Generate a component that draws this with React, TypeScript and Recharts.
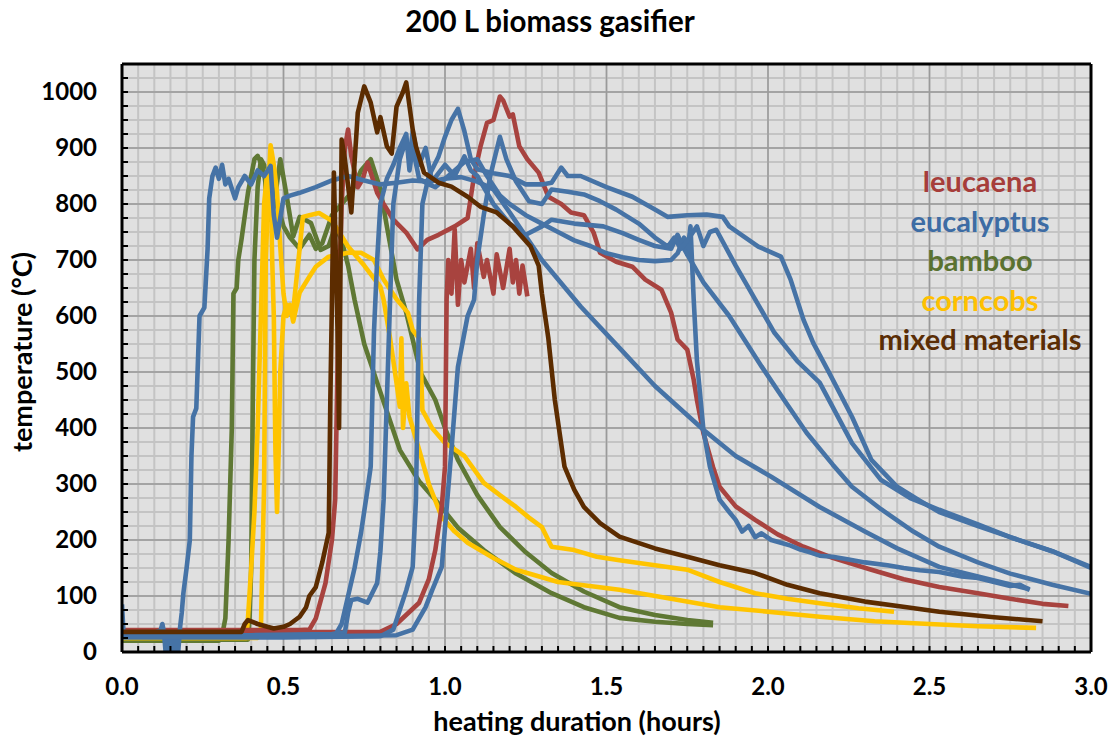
import { LineChart, Line, XAxis, YAxis, CartesianGrid, ReferenceLine } from 'recharts'

type Pt = [number, number]

// hours, °C
const leucaena1: Pt[] = [
  [0, 39], [0.3, 39], [0.55, 39], [0.58, 40], [0.6, 60], [0.63, 123], [0.65, 200], [0.66, 272], [0.67, 600],
  [0.68, 800], [0.69, 900], [0.7, 933], [0.71, 885], [0.73, 830], [0.745, 844], [0.76, 874], [0.79, 820],
  [0.81, 800], [0.84, 772], [0.88, 749], [0.915, 719], [0.945, 736], [0.98, 745], [1.03, 760], [1.07, 775],
  [1.09, 850], [1.11, 903], [1.13, 945], [1.15, 950], [1.17, 992], [1.18, 985], [1.2, 956], [1.21, 960],
  [1.23, 903], [1.255, 880], [1.29, 856], [1.32, 813], [1.36, 800], [1.39, 785], [1.43, 780], [1.46, 749],
  [1.48, 713], [1.53, 697], [1.58, 688], [1.62, 665], [1.67, 647], [1.7, 606], [1.72, 558], [1.75, 540],
  [1.77, 486], [1.78, 450], [1.8, 391], [1.83, 330], [1.85, 295], [1.9, 260], [1.96, 236], [2.03, 210],
  [2.11, 188], [2.2, 168], [2.32, 147], [2.42, 130], [2.53, 116], [2.65, 105], [2.75, 95], [2.85, 86], [2.93, 82],
]
const leucaena2: Pt[] = [
  [0, 35], [0.4, 35], [0.8, 36], [0.85, 50], [0.92, 88], [0.95, 130], [0.97, 182], [0.99, 260], [1.0, 331],
  [1.005, 629], [1.01, 700], [1.02, 640], [1.03, 755], [1.04, 620], [1.05, 700], [1.06, 660], [1.08, 720],
  [1.09, 650], [1.1, 730], [1.12, 670], [1.13, 700], [1.15, 640], [1.16, 710], [1.18, 650], [1.2, 720],
  [1.21, 660], [1.22, 700], [1.23, 640], [1.24, 690], [1.255, 635],
]

const eucalyptus1: Pt[] = [
  [0, 85], [0.005, 30], [0.05, 30], [0.1, 33], [0.12, 40], [0.125, 50], [0.13, 35], [0.135, 0], [0.14, 30],
  [0.143, 0], [0.147, 28], [0.15, 0], [0.155, 30], [0.158, 0], [0.162, 28], [0.166, 0], [0.17, 30], [0.174, 0],
  [0.178, 30], [0.18, 45], [0.185, 70], [0.19, 105], [0.2, 150], [0.21, 200], [0.215, 350], [0.22, 420],
  [0.23, 435], [0.24, 600], [0.255, 615], [0.265, 720], [0.27, 810], [0.28, 850], [0.29, 865], [0.3, 845],
  [0.31, 870], [0.32, 835], [0.33, 845], [0.35, 810], [0.36, 830], [0.38, 850], [0.4, 835], [0.42, 860],
  [0.44, 850], [0.46, 868], [0.47, 780], [0.48, 740], [0.5, 810], [0.52, 815], [0.55, 820], [0.6, 830],
  [0.65, 842], [0.7, 850], [0.75, 842], [0.8, 835], [0.85, 838], [0.9, 842], [0.95, 840], [1.0, 845],
  [1.05, 848], [1.1, 840], [1.15, 826], [1.2, 785], [1.3, 700], [1.42, 617], [1.54, 543], [1.65, 475],
  [1.8, 397], [1.9, 350], [2.01, 313], [2.16, 259], [2.3, 215], [2.4, 185], [2.53, 152], [2.65, 135], [2.81, 112],
]
const eucalyptus2: Pt[] = [
  [0, 28], [0.3, 28], [0.6, 28], [0.66, 30], [0.68, 50], [0.7, 100], [0.72, 150], [0.74, 213], [0.76, 290],
  [0.77, 331], [0.78, 570], [0.79, 700], [0.8, 800], [0.82, 845], [0.84, 870], [0.86, 900], [0.88, 925],
  [0.89, 860], [0.9, 900], [0.92, 845], [0.95, 835], [0.97, 830], [1.0, 845], [1.03, 860], [1.06, 875],
  [1.1, 880], [1.13, 850], [1.17, 815], [1.2, 800], [1.25, 780], [1.3, 765], [1.35, 750], [1.4, 735],
  [1.45, 725], [1.5, 712], [1.55, 705], [1.6, 700], [1.65, 698], [1.7, 700], [1.72, 712], [1.74, 740],
  [1.75, 710], [1.76, 760], [1.77, 629], [1.78, 520], [1.8, 397], [1.82, 331], [1.85, 272], [1.88, 250],
  [1.9, 236], [1.92, 215], [1.94, 225], [1.96, 205], [1.98, 212], [2.01, 200], [2.04, 195], [2.07, 190],
  [2.1, 183], [2.13, 178], [2.16, 172], [2.2, 170], [2.25, 165], [2.3, 160], [2.37, 155], [2.42, 150],
  [2.47, 146], [2.53, 143], [2.6, 135], [2.65, 132], [2.7, 125], [2.75, 118], [2.78, 120], [2.81, 111],
]
const eucalyptus3: Pt[] = [
  [0, 30], [0.4, 30], [0.65, 32], [0.69, 35], [0.7, 70], [0.71, 93], [0.73, 95], [0.76, 88], [0.79, 123],
  [0.8, 180], [0.81, 272], [0.82, 450], [0.83, 629], [0.84, 800], [0.86, 880], [0.88, 915], [0.89, 880],
  [0.9, 930], [0.92, 870], [0.94, 900], [0.96, 840], [0.98, 855], [1.0, 870], [1.03, 850], [1.06, 885],
  [1.08, 860], [1.1, 850], [1.15, 800], [1.2, 765], [1.25, 745], [1.3, 760], [1.33, 772], [1.4, 765],
  [1.49, 760], [1.55, 748], [1.6, 736], [1.65, 725], [1.7, 720], [1.72, 745], [1.74, 720], [1.76, 700],
  [1.8, 660], [1.88, 600], [1.93, 555], [1.98, 510], [2.05, 450], [2.12, 391], [2.2, 335], [2.26, 295],
  [2.35, 255], [2.45, 215], [2.53, 188], [2.65, 160], [2.75, 140], [2.88, 120], [3.0, 104],
]
const eucalyptus4: Pt[] = [
  [0, 26], [0.5, 26], [0.8, 28], [0.84, 40], [0.86, 75], [0.88, 110], [0.9, 152], [0.91, 272], [0.92, 629],
  [0.93, 800], [0.95, 850], [0.98, 885], [1.0, 920], [1.02, 950], [1.04, 970], [1.06, 930], [1.08, 880],
  [1.1, 862], [1.15, 855], [1.2, 850], [1.25, 835], [1.3, 835], [1.33, 838], [1.36, 865], [1.38, 850],
  [1.42, 850], [1.5, 830], [1.58, 813], [1.65, 790], [1.69, 777], [1.75, 780], [1.81, 781], [1.86, 777],
  [1.88, 760], [1.97, 724], [2.04, 706], [2.07, 665], [2.11, 593], [2.14, 552], [2.19, 498], [2.26, 420],
  [2.32, 343], [2.4, 295], [2.47, 270], [2.53, 250], [2.65, 225], [2.75, 205], [2.88, 180], [3.0, 152],
]
const eucalyptus5: Pt[] = [
  [0, 28], [0.6, 28], [0.85, 30], [0.9, 40], [0.94, 80], [0.96, 110], [0.99, 152], [1.02, 361], [1.04, 509],
  [1.07, 600], [1.09, 629], [1.1, 700], [1.12, 780], [1.14, 850], [1.17, 920], [1.19, 880], [1.22, 840],
  [1.26, 805], [1.3, 800], [1.33, 826], [1.38, 822], [1.43, 817], [1.48, 805], [1.53, 790], [1.6, 765],
  [1.65, 740], [1.69, 724], [1.71, 740], [1.73, 720], [1.75, 735], [1.78, 760], [1.8, 725], [1.82, 750],
  [1.84, 754], [1.9, 690], [1.97, 620], [2.02, 570], [2.09, 520], [2.16, 481], [2.26, 373], [2.35, 307],
  [2.44, 275], [2.53, 254], [2.65, 228], [2.75, 205], [2.88, 180], [3.0, 150],
]

const bamboo1: Pt[] = [
  [0, 20], [0.2, 20], [0.3, 20], [0.31, 30], [0.32, 60], [0.33, 200], [0.34, 400], [0.345, 640], [0.355, 650],
  [0.36, 700], [0.37, 737], [0.39, 820], [0.41, 880], [0.42, 886], [0.44, 861], [0.455, 772], [0.47, 795],
  [0.49, 880], [0.51, 814], [0.53, 742], [0.55, 777], [0.585, 766], [0.615, 718], [0.64, 725], [0.66, 760],
  [0.68, 735], [0.7, 690], [0.72, 629], [0.75, 550], [0.79, 481], [0.86, 361], [0.92, 305], [0.97, 272],
  [1.04, 222], [1.12, 182], [1.22, 140], [1.33, 105], [1.43, 80], [1.54, 61], [1.65, 54], [1.75, 50], [1.83, 48],
]
const bamboo2: Pt[] = [
  [0, 22], [0.3, 22], [0.39, 22], [0.395, 60], [0.4, 150], [0.405, 450], [0.41, 700], [0.42, 830], [0.43, 880],
  [0.44, 870], [0.45, 790], [0.46, 835], [0.48, 800], [0.5, 760], [0.52, 740], [0.55, 720], [0.58, 745],
  [0.6, 720], [0.62, 730], [0.65, 780], [0.68, 800], [0.71, 820], [0.74, 860], [0.77, 880], [0.8, 826],
  [0.82, 760], [0.85, 665], [0.88, 606], [0.925, 498], [0.97, 450], [1.0, 400], [1.04, 343], [1.1, 280],
  [1.17, 223], [1.25, 178], [1.33, 141], [1.43, 108], [1.54, 80], [1.65, 66], [1.75, 57], [1.83, 52],
]

const corncobs1: Pt[] = [
  [0, 25], [0.3, 25], [0.42, 25], [0.43, 40], [0.44, 300], [0.445, 700], [0.455, 850], [0.46, 905], [0.47, 870],
  [0.48, 820], [0.49, 724], [0.5, 640], [0.51, 600], [0.52, 620], [0.53, 590], [0.55, 642], [0.58, 670],
  [0.6, 688], [0.64, 706], [0.7, 713], [0.74, 713], [0.78, 700], [0.81, 665], [0.85, 630], [0.885, 606],
  [0.9, 575], [0.92, 560], [0.925, 516], [0.93, 432], [0.96, 400], [1.0, 373], [1.03, 362], [1.06, 350],
  [1.12, 302], [1.17, 280], [1.22, 259], [1.26, 240], [1.3, 223], [1.33, 188], [1.4, 182], [1.47, 170],
  [1.54, 164], [1.65, 155], [1.75, 147], [1.85, 125], [1.96, 105], [2.06, 95], [2.16, 87], [2.28, 78], [2.39, 72],
]
const corncobs2: Pt[] = [
  [0, 25], [0.3, 25], [0.385, 25], [0.39, 60], [0.4, 150], [0.41, 250], [0.42, 400], [0.43, 600], [0.44, 800],
  [0.45, 860], [0.46, 840], [0.465, 700], [0.47, 600], [0.475, 360], [0.48, 250], [0.485, 360], [0.49, 500],
  [0.5, 600], [0.51, 620], [0.53, 610], [0.55, 720], [0.56, 777], [0.58, 780], [0.61, 784], [0.65, 770],
  [0.7, 724], [0.75, 690], [0.8, 652], [0.81, 629], [0.83, 560], [0.85, 480], [0.86, 438], [0.865, 560],
  [0.87, 400], [0.88, 480], [0.89, 420], [0.92, 361], [0.95, 300], [0.99, 241], [1.03, 215], [1.07, 195],
  [1.15, 168], [1.22, 147], [1.35, 125], [1.54, 111], [1.7, 95], [1.85, 80], [2.0, 72], [2.16, 63], [2.33, 55],
  [2.5, 50], [2.65, 46], [2.83, 43],
]

const mixed1: Pt[] = [
  [0, 36], [0.09, 36], [0.2, 36], [0.37, 36], [0.38, 50], [0.39, 57], [0.42, 50], [0.45, 45], [0.47, 42],
  [0.5, 45], [0.52, 50], [0.55, 63], [0.57, 80], [0.58, 100], [0.6, 116], [0.62, 160], [0.64, 213], [0.645, 450],
  [0.65, 629], [0.656, 856], [0.667, 581], [0.672, 400], [0.68, 915], [0.69, 880], [0.71, 785], [0.73, 963],
  [0.75, 1010], [0.77, 981], [0.79, 928], [0.8, 955], [0.82, 903], [0.835, 890], [0.85, 974], [0.87, 1000],
  [0.88, 1017], [0.9, 933], [0.91, 903], [0.935, 856], [0.98, 838], [1.02, 831], [1.07, 813], [1.11, 795],
  [1.16, 785], [1.21, 760], [1.265, 724], [1.29, 690], [1.3, 640], [1.31, 600], [1.32, 560], [1.34, 450],
  [1.37, 331], [1.4, 290], [1.43, 259], [1.48, 230], [1.54, 206], [1.65, 185], [1.75, 170], [1.85, 155],
  [1.96, 141], [2.06, 120], [2.16, 105], [2.3, 90], [2.43, 80], [2.53, 72], [2.7, 62], [2.85, 55],
]

const xMajorTicks = [0, 0.5, 1, 1.5, 2, 2.5, 3]
const yMajorTicks = [100, 200, 300, 400, 500, 600, 700, 800, 900, 1000]
const xMinorTicks = Array.from({ length: 61 }, (_, i) => +(i * 0.05).toFixed(2))
const yMinorTicks = Array.from({ length: 43 }, (_, i) => i * 25)

const RED = '#a8433f'
const BLUE = '#4673a6'
const GREEN = '#5f7834'
const YELLOW = '#ffc400'
const BROWN = '#5c2c00'

const series = [
  { id: 'bamboo1', pts: bamboo1, color: GREEN },
  { id: 'bamboo2', pts: bamboo2, color: GREEN },
  { id: 'corncobs1', pts: corncobs1, color: YELLOW },
  { id: 'corncobs2', pts: corncobs2, color: YELLOW },
  { id: 'leucaena1', pts: leucaena1, color: RED },
  { id: 'leucaena2', pts: leucaena2, color: RED },
  { id: 'eucalyptus1', pts: eucalyptus1, color: BLUE },
  { id: 'eucalyptus2', pts: eucalyptus2, color: BLUE },
  { id: 'eucalyptus3', pts: eucalyptus3, color: BLUE },
  { id: 'eucalyptus4', pts: eucalyptus4, color: BLUE },
  { id: 'eucalyptus5', pts: eucalyptus5, color: BLUE },
  { id: 'mixed1', pts: mixed1, color: BROWN },
]

const legendItems = [
  { label: 'leucaena', color: '#a63d3a' },
  { label: 'eucalyptus', color: '#3d6ca4' },
  { label: 'bamboo', color: '#5a7230' },
  { label: 'corncobs', color: '#ffc000' },
  { label: 'mixed materials', color: '#5a2d05' },
]

const FONT = 'Lato, sans-serif'

const XTick = (props: any) => {
  const v = props.payload.value
  if (!xMajorTicks.some((m) => Math.abs(m - v) < 1e-6)) return null
  return (
    <text x={props.x} y={props.y} textAnchor="middle" fontFamily={FONT} fontWeight={700} fontSize={24} fill="#000">
      {v.toFixed(1)}
    </text>
  )
}

const YTick = (props: any) => {
  const v = props.payload.value
  if (v % 100 !== 0) return null
  return (
    <text x={props.x} y={props.y + 8} textAnchor="end" fontFamily={FONT} fontWeight={700} fontSize={24} fill="#000">
      {v}
    </text>
  )
}

export default function App() {
  return (
    <div style={{ position: 'absolute', left: 0, top: 0, width: 1111, height: 740, background: '#fff' }}>
      <LineChart width={1111} height={740} margin={{ top: 64, right: 20, bottom: 0, left: 0 }}>
        <CartesianGrid stroke="#c4c4c4" strokeWidth={2} fill="#e0e0e0" />
        <XAxis
          dataKey="h"
          type="number"
          domain={[0, 3]}
          ticks={xMinorTicks}
          interval={0}
          height={88}
          allowDataOverflow
          tickSize={-6}
          tickMargin={49}
          tickLine={{ stroke: '#000', strokeWidth: 2 }}
          axisLine={{ stroke: '#000', strokeWidth: 3 }}
          tick={<XTick />}
        />
        <YAxis
          type="number"
          domain={[0, 1050]}
          ticks={yMinorTicks}
          interval={0}
          width={122}
          allowDataOverflow
          tickSize={-6}
          tickMargin={31}
          tickLine={{ stroke: '#000', strokeWidth: 2 }}
          axisLine={{ stroke: '#000', strokeWidth: 3 }}
          tick={<YTick />}
        />
        {xMajorTicks.slice(1, -1).map((v) => (
          <ReferenceLine key={'vx' + v} x={v} stroke="#9a9a9a" strokeWidth={1.5} />
        ))}
        {yMajorTicks.map((v) => (
          <ReferenceLine key={'hy' + v} y={v} stroke="#9a9a9a" strokeWidth={1.5} />
        ))}
        {series.map((s) => (
          <Line
            key={s.id}
            data={s.pts.map(([h, t]) => ({ h, t }))}
            dataKey="t"
            type="linear"
            stroke={s.color}
            strokeWidth={4.6}
            strokeLinejoin="round"
            dot={false}
            activeDot={false}
            isAnimationActive={false}
          />
        ))}
        <ReferenceLine y={1050} stroke="#000" strokeWidth={3} />
        <ReferenceLine x={3} stroke="#000" strokeWidth={3} />
      </LineChart>
      <svg width={1111} height={740} style={{ position: 'absolute', left: 0, top: 0, pointerEvents: 'none' }}>
        <text x={550} y={32} textAnchor="middle" fontFamily={FONT} fontWeight={700} fontSize={29.5} fill="#000">
          200 L biomass gasifier
        </text>
        <text x={577} y={731} textAnchor="middle" fontFamily={FONT} fontWeight={700} fontSize={27} fill="#000">
          heating duration (hours)
        </text>
        <text transform="translate(32,352) rotate(-90)" textAnchor="middle" fontFamily={FONT} fontWeight={700} fontSize={27} fill="#000">
          temperature (°C)
        </text>
        {legendItems.map((item, i) => (
          <text key={item.label} x={980} y={192 + i * 39.5} textAnchor="middle" fontFamily={FONT} fontWeight={700} fontSize={29} fill={item.color}>
            {item.label}
          </text>
        ))}
      </svg>
    </div>
  )
}
